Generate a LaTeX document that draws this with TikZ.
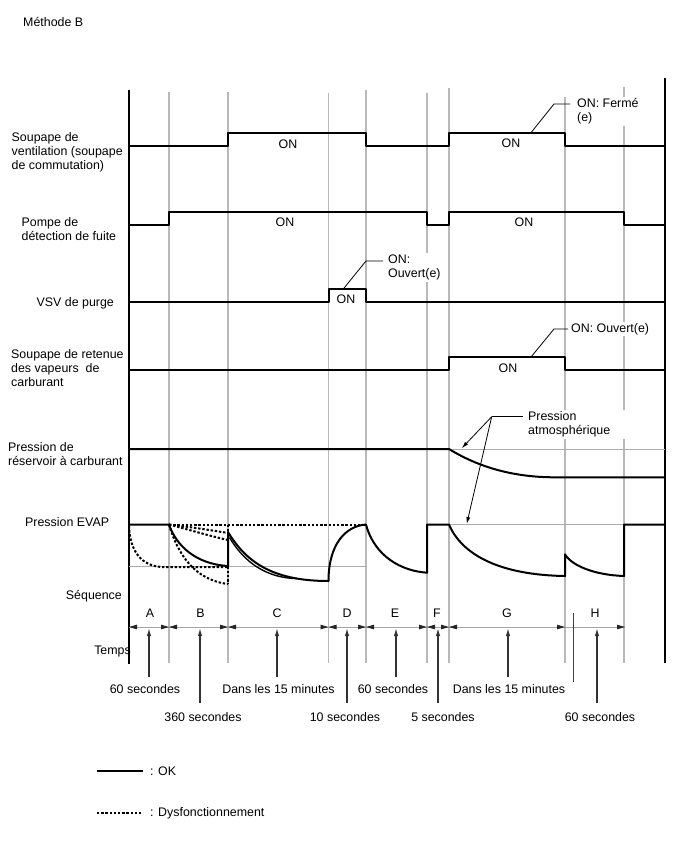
\documentclass[tikz,border=0pt]{standalone}
\usepackage{fontspec}
\setmainfont{Liberation Sans}
\usetikzlibrary{arrows.meta}
\begin{document}
\begin{tikzpicture}[x=1pt,y=-1pt,font=\fontsize{12.4}{14}\selectfont,
  sig/.style={line width=2pt,line join=round},
  gridl/.style={gray!55,line width=1.2pt},
  refl/.style={gray!65,line width=0.9pt},
  frame/.style={line width=2pt},
  mal/.style={line width=2pt,dash pattern=on 2.4pt off 1.8pt},
  lbl/.style={inner sep=0pt,align=left},
  onlbl/.style={inner sep=0pt},
  callout/.style={inner sep=1.5pt,align=left,fill=white},
  leader/.style={line width=0.8pt},
  axisl/.style={gray!70,line width=0.9pt},
  dim/.style={axisl,{Triangle[length=8pt,width=4.5pt,color=black!85]}-{Triangle[length=8pt,width=4.5pt,color=black!85]}},
  dimr/.style={axisl,-{Triangle[length=8pt,width=4.5pt,color=black!85]}},
  uparr/.style={line width=1.3pt,black!80,-{Latex[length=8pt,width=4.5pt]}},
  patmarr/.style={leader,-{Latex[length=7pt,width=4pt]}}
]
\useasboundingbox (0,0) rectangle (688,852);

% title
\node[lbl,anchor=west] (title) at (23,22) {Méthode B};

% grid lines
\foreach \x/\t in {169/92,228/92,328.5/93,366/90,427/93,449/88,565/97,624/87}
  \draw[gridl] (\x,\t) -- (\x,663);

% frame lines
\draw[frame] (129,90) -- (129,664);
\draw[frame] (665,78) -- (665,663);

% reference lines
\draw[refl] (129,566) -- (366,566);
\draw[refl] (449,449) -- (665,449);
\draw[refl] (449,524.5) -- (624,524.5);

% left labels
\node[lbl,anchor=west] (vent) at (11.5,152) {Soupape de\\ventilation (soupape\\de commutation)};
\node[lbl,anchor=west] (pompe) at (21.5,229) {Pompe de\\détection de fuite};
\node[lbl,anchor=west] (vsv) at (36.5,303) {VSV de purge};
\node[lbl,anchor=west] (ret) at (11,368) {Soupape de retenue\\des vapeurs\ \ de\\carburant};
\node[lbl,anchor=west] (res) at (8,454) {Pression de\\réservoir à carburant};
\node[lbl,anchor=west] (evap) at (25,522) {Pression EVAP};
\node[lbl,anchor=east] (seq) at (122,596) {Séquence};
\node[lbl,anchor=east] (temps) at (131,652) {Temps};

% signals
\draw[sig] (129,145.7) -- (228,145.7) -- (228,132.7) -- (366,132.7) -- (366,145.7)
  -- (449,145.7) -- (449,132.7) -- (565,132.7) -- (565,145.7) -- (665,145.7);
\draw[sig] (129,225.3) -- (169,225.3) -- (169,212.3) -- (427,212.3) -- (427,225.3)
  -- (449,225.3) -- (449,212.3) -- (624,212.3) -- (624,225.3) -- (665,225.3);
\draw[sig] (129,301.7) -- (328.5,301.7) -- (328.5,289.3) -- (366,289.3) -- (366,301.7) -- (665,301.7);
\draw[sig] (129,370) -- (449,370) -- (449,357) -- (565,357) -- (565,370) -- (665,370);

\node[onlbl] (on1) at (288,144) {ON};
\node[onlbl] (on2) at (511,143) {ON};
\node[onlbl] (on3) at (285,222) {ON};
\node[onlbl] (on4) at (524,222) {ON};
\node[onlbl] (on5) at (346,299) {ON};
\node[onlbl] (on6) at (508,368) {ON};

% callouts
\node[callout,anchor=west] (ferme) at (575.5,111.5) {ON: Fermé\\(e)};
\coordinate (fe1) at (531,132.7); \coordinate (fe2) at (554,104); \coordinate (fe3) at (570,104);
\draw[leader] (fe1) -- (fe2) -- (fe3);

\node[callout,anchor=west] (ouv1) at (386.5,267.5) {ON:\\Ouvert(e)};
\coordinate (ov1) at (343,289.3); \coordinate (ov2) at (366,261); \coordinate (ov3) at (383,261);
\draw[leader] (ov1) -- (ov2) -- (ov3);

\node[callout,anchor=west] (ouv2) at (569.5,329) {ON: Ouvert(e)};
\coordinate (or1) at (531,357); \coordinate (or2) at (554,329); \coordinate (or3) at (568,329);
\draw[leader] (or1) -- (or2) -- (or3);

% reservoir pressure
\draw[sig] (129,449) -- (449,449) .. controls (480,468) and (515,477.3) .. (555,477.3) -- (665,477.3);

% atmospheric pressure callout
\node[lbl,anchor=west,fill=white,inner sep=2pt,text width=98pt] (patm) at (526,424.5) {Pression\\atmosphérique};
\coordinate (pa1) at (522.7,416.7); \coordinate (pa2) at (491.7,416.7);
\coordinate (pa3) at (461.7,448.3); \coordinate (pa4) at (466.7,524);
\draw[leader] (pa1) -- (pa2);
\draw[patmarr] (pa2) -- (pa3);
\draw[patmarr] (pa2) -- (pa4);

% EVAP pressure - malfunction (dashed)
\draw[mal] (169,524.5) -- (366,524.5);
\draw[mal] (129,526) .. controls (130,552) and (142,566) .. (162,567) -- (228,567);
\draw[mal] (169,524.5) .. controls (190,527) and (210,530) .. (228,533);
\draw[mal] (169,524.5) .. controls (190,530) and (210,536) .. (228,540);
\draw[mal] (169,524.5) .. controls (178,555) and (195,580) .. (228,584);
\draw[mal] (228,524.5) -- (228,584);

% EVAP pressure - OK (solid)
\draw[sig] (129,524.5) -- (169,524.5) .. controls (176,545) and (195,564) .. (228,566)
  -- (228,532) .. controls (245,560) and (270,581) .. (328.5,581)
  .. controls (328.5,545) and (345,526) .. (366,524.5)
  .. controls (372,548) and (392,570) .. (427,572.7) -- (427,524.5) -- (449,524.5)
  .. controls (462,555) and (500,575) .. (565,576) -- (565,554.3)
  .. controls (572,566) and (595,575) .. (624,576) -- (624,524.5) -- (665,524.5);
\draw[line width=1.4pt] (229.5,537.5) .. controls (244,562) and (266,578) .. (297,578.6);

% sequence axis
\draw[axisl] (129,627) -- (625,627);
\foreach \a/\b in {129/169,169/228,228/328.5,328.5/366,366/427,427/449,449/565}
  \draw[dim] (\a,627) -- (\b,627);
\draw[dimr] (565,627) -- (625,627);
\draw[line width=1pt,black!75] (573,613) -- (573,682);

\node (sA) at (150,613) {A};
\node (sB) at (200.5,613) {B};
\node (sC) at (277,613) {C};
\node (sD) at (347,613) {D};
\node (sE) at (395,613) {E};
\node (sF) at (437,613) {F};
\node (sG) at (507,613) {G};
\node (sH) at (595,613) {H};

% time labels
\node (tA) at (145,689) {60 secondes};
\node (tB) at (203,717) {360 secondes};
\node (tC) at (278.5,689) {Dans les 15 minutes};
\node (tD) at (345,717) {10 secondes};
\node (tE) at (393,689) {60 secondes};
\node (tF) at (443,717) {5 secondes};
\node (tG) at (509,689) {Dans les 15 minutes};
\node (tH) at (600,717) {60 secondes};

\draw[uparr] (149,677) -- (149,628);
\draw[uparr] (200,703) -- (200,628);
\draw[uparr] (277,677) -- (277,628);
\draw[uparr] (347,703) -- (347,628);
\draw[uparr] (396,677) -- (396,628);
\draw[uparr] (438,703) -- (438,628);
\draw[uparr] (508,677) -- (508,628);
\draw[uparr] (597,703) -- (597,628);

% legend
\coordinate (lg1) at (97,771); \coordinate (lg2) at (143,771);
\draw[sig] (lg1) -- (lg2);
\node[lbl,anchor=west] (ok) at (150,771) {: OK};
\coordinate (lg3) at (97,813); \coordinate (lg4) at (143,813);
\draw[line width=1.6pt,dash pattern=on 2.4pt off 1.8pt] (lg3) -- (lg4);
\node[lbl,anchor=west] (dys) at (150,813) {: Dysfonctionnement};
\end{tikzpicture}
\end{document}
